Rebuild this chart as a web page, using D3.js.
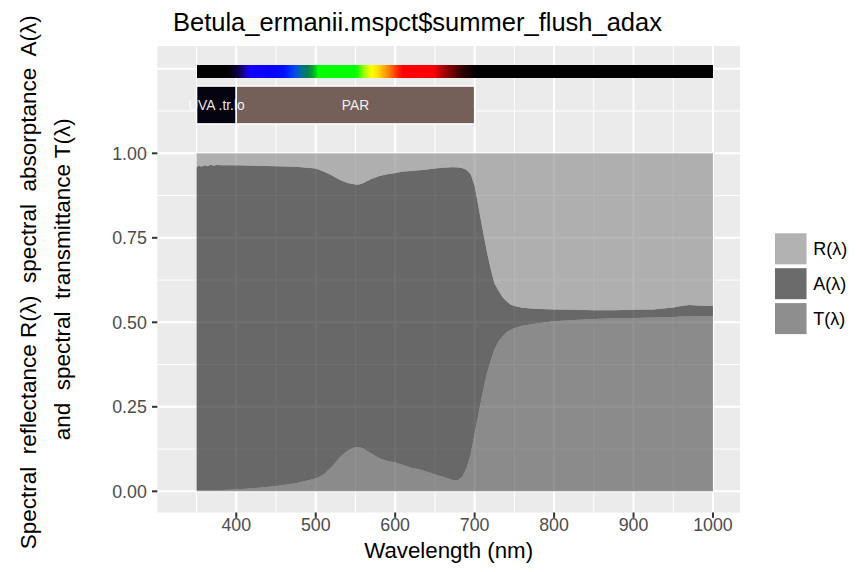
<!DOCTYPE html>
<html><head><meta charset="utf-8">
<script src="https://cdn.jsdelivr.net/npm/d3@7"></script>
<style>body{margin:0;background:#fff} text{font-family:"Liberation Sans",Arial,Helvetica,sans-serif}</style>
</head><body><svg id="c" width="856" height="572"></svg>
<script>
// ---- data ----
const wavelengths   = [350,353,356,360,364,368,372,376,380,400,425,450,475,500,510,520,530,540,550,555,560,570,580,590,600,610,620,630,640,650,660,670,675,680,685,690,695,700,705,710,715,720,725,730,735,740,745,750,760,775,800,825,850,875,900,925,950,960,970,980,990,1000];
const reflectance   = [.042,.036,.040,.035,.038,.034,.037,.034,.035,.035,.037,.038,.040,.045,.054,.065,.078,.088,.092,.092,.088,.076,.067,.062,.058,.054,.052,.050,.048,.045,.043,.041,.041,.042,.044,.049,.062,.095,.160,.225,.286,.340,.385,.406,.425,.438,.447,.452,.457,.460,.462,.463,.464,.464,.463,.462,.456,.452,.449,.450,.451,.452];
const absorptance   = [.954,.960,.956,.961,.958,.962,.959,.962,.961,.960,.953,.946,.936,.917,.896,.863,.822,.792,.777,.777,.786,.812,.835,.848,.857,.868,.878,.885,.894,.905,.914,.924,.927,.924,.911,.881,.828,.735,.610,.485,.369,.275,.195,.151,.117,.092,.076,.065,.053,.044,.035,.030,.026,.024,.024,.024,.028,.031,.034,.032,.030,.029];
const transmittance = [.004,.004,.004,.004,.004,.004,.004,.004,.004,.005,.010,.016,.024,.038,.050,.072,.100,.120,.131,.131,.126,.112,.098,.090,.085,.078,.070,.065,.058,.050,.043,.035,.032,.034,.045,.070,.110,.170,.230,.290,.345,.385,.420,.443,.458,.470,.477,.483,.490,.496,.503,.507,.510,.512,.513,.514,.516,.517,.517,.518,.519,.519];
const seriesNames   = ["R(λ)","A(λ)","T(λ)"];
const seriesFills   = ["#878787","#111111","#4b4b4b"];
const xTicks        = [400,500,600,700,800,900,1000];
const xMinor        = [350,450,550,650,750,850,950];
const yTicks        = [0,0.25,0.5,0.75,1];
const yTickLabels   = ["0.00","0.25","0.50","0.75","1.00"];
const yMajorGrid    = [0,0.25,0.5,0.75,1,1.25];
const yMinorGrid    = [0.125,0.375,0.625,0.875,1.125];
const bandNames     = ["UVA .tr.lo","PAR"];
const bandLo        = [350,400];
const bandHi        = [400,700];
const bandColors    = ["#05030f","#745f59"];
const spectrumStops = [[350,"#000000"],[388,"#000000"],[395,"#08001a"],[405,"#100060"],[413,"#1800d0"],[418,"#1400ff"],[440,"#0a00ff"],[460,"#0010ff"],[468,"#0030ff"],[475,"#0050e0"],[482,"#007090"],[490,"#008050"],[497,"#00b020"],[503,"#00ff00"],[550,"#00ff00"],[555,"#40ff00"],[560,"#90ff00"],[565,"#d0ff00"],[570,"#ffff00"],[578,"#ffe000"],[585,"#ffb000"],[592,"#ff8000"],[598,"#ff5000"],[604,"#ff2000"],[610,"#ff0000"],[648,"#ff0000"],[655,"#d00000"],[665,"#900000"],[675,"#600000"],[685,"#300000"],[695,"#140000"],[705,"#000000"],[1000,"#000000"]];
const titleText = "Betula_ermanii.mspct$summer_flush_adax";
const xTitle = "Wavelength (nm)";
const yTitle1 = "Spectral  reflectance R(λ)  spectral  absorptance  A(λ)";
const yTitle2 = "and  spectral  transmittance T(λ)";

// ---- layout ----
const P = {l:157.3, r:740, t:46, b:512.5};
const svg = d3.select("#c");
const x = d3.scaleLinear().domain([300.6,1034]).range([P.l,P.r]);
const y = d3.scaleLinear().domain([-0.0627,1.3175]).range([P.b,P.t]);

svg.append("rect").attr("x",P.l).attr("y",P.t).attr("width",P.r-P.l).attr("height",P.b-P.t).attr("fill","#ebebeb");
const g = svg.append("g");
// grid
g.selectAll(".ymin").data(yMinorGrid).join("line").attr("x1",P.l).attr("x2",P.r).attr("y1",d=>y(d)).attr("y2",d=>y(d)).attr("stroke","#fff").attr("stroke-width",1);
g.selectAll(".xmin").data(xMinor).join("line").attr("y1",P.t).attr("y2",P.b).attr("x1",d=>x(d)).attr("x2",d=>x(d)).attr("stroke","#fff").attr("stroke-width",1);
g.selectAll(".ymaj").data(yMajorGrid).join("line").attr("x1",P.l).attr("x2",P.r).attr("y1",d=>y(d)).attr("y2",d=>y(d)).attr("stroke","#fff").attr("stroke-width",2);
g.selectAll(".xmaj").data(xTicks).join("line").attr("y1",P.t).attr("y2",P.b).attr("x1",d=>x(d)).attr("x2",d=>x(d)).attr("stroke","#fff").attr("stroke-width",2);

// stacked areas: T bottom, A middle, R top
const rows = wavelengths.map((w,i)=>({w, T:transmittance[i], A:absorptance[i], R:reflectance[i]}));
const stack = d3.stack().keys(["T","A","R"])(rows);
const fillFor = {T:seriesFills[2], A:seriesFills[1], R:seriesFills[0]};
const area = d3.area().x(d=>x(d.data.w)).y0(d=>y(d[0])).y1(d=>y(d[1]));
g.selectAll(".area").data(stack).join("path").attr("d",area).attr("fill",d=>fillFor[d.key]).attr("fill-opacity",0.6);

// spectrum colour bar
const stopW = spectrumStops.map(s=>s[0]);
const colAt = w => { let i = d3.bisectRight(stopW,w)-1; i=Math.max(0,Math.min(i,stopW.length-2)); const t=(w-stopW[i])/(stopW[i+1]-stopW[i]); return d3.interpolateRgb(spectrumStops[i][1],spectrumStops[i+1][1])(t); };
const barW = d3.range(350,1000,1);
const cb = g.append("g").attr("shape-rendering","crispEdges");
cb.selectAll("rect").data(barW).join("rect").attr("x",d=>x(d)).attr("width",d=>(d===999? x(1000)-x(d) : x(d+1)-x(d)+1)).attr("y",y(1.262)).attr("height",y(1.222)-y(1.262)).attr("fill",d=>colAt(d+0.5));

// bands
const bandData = bandNames.map((n,i)=>({n,lo:bandLo[i],hi:bandHi[i],c:bandColors[i]}));
g.selectAll(".band").data(bandData).join("rect").attr("x",d=>x(d.lo)).attr("width",d=>x(d.hi)-x(d.lo)).attr("y",y(1.199)).attr("height",y(1.087)-y(1.199)).attr("fill",d=>d.c).attr("stroke","#fff").attr("stroke-width",1.5);
g.selectAll(".bandt").data(bandData).join("text").attr("x",d=>x((d.lo+d.hi)/2)).attr("y",y(1.143)).attr("dy","0.35em").attr("text-anchor","middle").attr("font-size",13.8).attr("fill","#fff").attr("fill-opacity",0.92).text(d=>d.n);

// axes ticks
svg.selectAll(".xt").data(xTicks).join("line").attr("x1",d=>x(d)).attr("x2",d=>x(d)).attr("y1",P.b).attr("y2",P.b+5.3).attr("stroke","#333").attr("stroke-width",2);
svg.selectAll(".xl").data(xTicks).join("text").attr("x",d=>x(d)).attr("y",531).attr("text-anchor","middle").attr("font-size",17.8).attr("fill","#4d4d4d").text(d=>d);
svg.selectAll(".yt").data(yTicks).join("line").attr("y1",d=>y(d)).attr("y2",d=>y(d)).attr("x1",P.l-5.3).attr("x2",P.l).attr("stroke","#333").attr("stroke-width",2);
svg.selectAll(".yl").data(yTicks).join("text").attr("x",P.l-10.5).attr("y",d=>y(d)).attr("dy","0.36em").attr("text-anchor","end").attr("font-size",17.8).attr("fill","#4d4d4d").text((d,i)=>yTickLabels[i]);

// titles
svg.append("text").attr("x",173).attr("y",31).attr("font-size",25.5).attr("fill","#000").text(titleText);
svg.append("text").attr("x",(P.l+P.r)/2).attr("y",558).attr("text-anchor","middle").attr("font-size",22.3).attr("fill","#000").text(xTitle);
const cy = (P.t+P.b)/2;
svg.append("text").attr("transform",`translate(36,${cy+3}) rotate(-90)`).attr("text-anchor","middle").attr("font-size",22.5).attr("fill","#000").style("white-space","pre").text(yTitle1);
svg.append("text").attr("transform",`translate(70,${cy}) rotate(-90)`).attr("text-anchor","middle").attr("font-size",22.5).attr("fill","#000").style("white-space","pre").text(yTitle2);

// legend
const lg = svg.append("g");
const keyY = i => 233.3 + i*34.9;
seriesNames.forEach((n,i)=>{
  lg.append("rect").attr("x",775).attr("y",keyY(i)).attr("width",31.5).attr("height",31).attr("fill","#f2f2f2");
  lg.append("rect").attr("x",775).attr("y",keyY(i)).attr("width",31.5).attr("height",31).attr("fill",seriesFills[i]).attr("fill-opacity",0.6);
  lg.append("text").attr("x",813.3).attr("y",keyY(i)+15.5).attr("dy","0.36em").attr("font-size",18).attr("fill","#000").text(n);
});
</script></body></html>
